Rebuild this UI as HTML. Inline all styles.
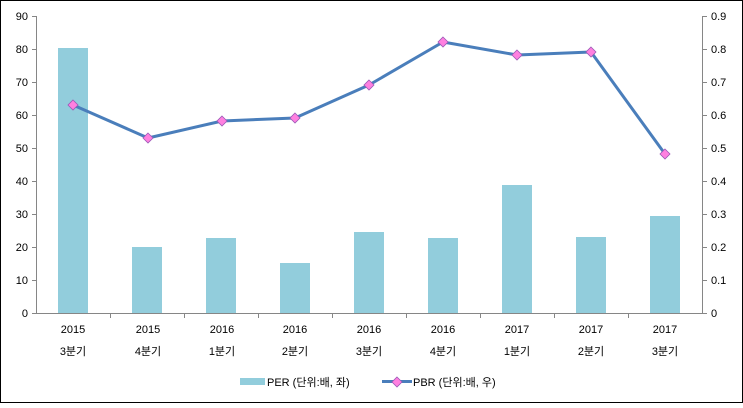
<!DOCTYPE html>
<html><head><meta charset="utf-8"><style>html,body{margin:0;padding:0;background:#fff}</style></head><body>
<svg width="743" height="403" xmlns="http://www.w3.org/2000/svg" font-family="Liberation Sans, 'Noto Sans CJK KR', sans-serif" font-size="11" fill="#000">
<rect x="0.5" y="0.5" width="742" height="402" fill="#fff" stroke="#000"/>
<g stroke="#868686" stroke-width="1">
<line x1="36.5" y1="16" x2="36.5" y2="313"/>
<line x1="702.5" y1="16" x2="702.5" y2="313"/>
<line x1="36" y1="313.5" x2="703" y2="313.5"/>
<line x1="32" y1="16.5" x2="36" y2="16.5"/><line x1="32" y1="49.5" x2="36" y2="49.5"/><line x1="32" y1="82.5" x2="36" y2="82.5"/><line x1="32" y1="115.5" x2="36" y2="115.5"/><line x1="32" y1="148.5" x2="36" y2="148.5"/><line x1="32" y1="181.5" x2="36" y2="181.5"/><line x1="32" y1="214.5" x2="36" y2="214.5"/><line x1="32" y1="247.5" x2="36" y2="247.5"/><line x1="32" y1="280.5" x2="36" y2="280.5"/><line x1="32" y1="313.5" x2="36" y2="313.5"/>
<line x1="703" y1="16.5" x2="707" y2="16.5"/><line x1="703" y1="49.5" x2="707" y2="49.5"/><line x1="703" y1="82.5" x2="707" y2="82.5"/><line x1="703" y1="115.5" x2="707" y2="115.5"/><line x1="703" y1="148.5" x2="707" y2="148.5"/><line x1="703" y1="181.5" x2="707" y2="181.5"/><line x1="703" y1="214.5" x2="707" y2="214.5"/><line x1="703" y1="247.5" x2="707" y2="247.5"/><line x1="703" y1="280.5" x2="707" y2="280.5"/><line x1="703" y1="313.5" x2="707" y2="313.5"/>
<line x1="110.5" y1="313" x2="110.5" y2="318"/><line x1="184.5" y1="313" x2="184.5" y2="318"/><line x1="258.5" y1="313" x2="258.5" y2="318"/><line x1="332.5" y1="313" x2="332.5" y2="318"/><line x1="406.5" y1="313" x2="406.5" y2="318"/><line x1="480.5" y1="313" x2="480.5" y2="318"/><line x1="554.5" y1="313" x2="554.5" y2="318"/><line x1="628.5" y1="313" x2="628.5" y2="318"/>
</g>
<g text-anchor="end">
<text x="28" y="20">90</text><text x="28" y="53">80</text><text x="28" y="86">70</text><text x="28" y="119">60</text><text x="28" y="152">50</text><text x="28" y="185">40</text><text x="28" y="218">30</text><text x="28" y="251">20</text><text x="28" y="284">10</text><text x="28" y="317">0</text>
</g>
<g>
<text x="711" y="20">0.9</text><text x="711" y="53">0.8</text><text x="711" y="86">0.7</text><text x="711" y="119">0.6</text><text x="711" y="152">0.5</text><text x="711" y="185">0.4</text><text x="711" y="218">0.3</text><text x="711" y="251">0.2</text><text x="711" y="284">0.1</text><text x="711" y="317">0</text>
</g>
<g fill="#92CDDC">
<rect x="58" y="48" width="30" height="265"/>
<rect x="132" y="247" width="30" height="66"/>
<rect x="206" y="238" width="30" height="75"/>
<rect x="280" y="263" width="30" height="50"/>
<rect x="354" y="232" width="30" height="81"/>
<rect x="428" y="238" width="30" height="75"/>
<rect x="502" y="185" width="30" height="128"/>
<rect x="576" y="237" width="30" height="76"/>
<rect x="650" y="216" width="30" height="97"/>
</g>
<polyline fill="none" stroke="#4A7EBB" stroke-width="3" stroke-linejoin="round" points="73,105 148,138 222,121 295,118 369,85 443,42 517,55 591,52 665,154"/>
<g fill="#FF80E0" stroke="#9B59B6" stroke-width="0.8">
<path d="M73,100 l5,5 l-5,5 l-5,-5z"/><path d="M148,133 l5,5 l-5,5 l-5,-5z"/><path d="M222,116 l5,5 l-5,5 l-5,-5z"/><path d="M295,113 l5,5 l-5,5 l-5,-5z"/><path d="M369,80 l5,5 l-5,5 l-5,-5z"/><path d="M443,37 l5,5 l-5,5 l-5,-5z"/><path d="M517,50 l5,5 l-5,5 l-5,-5z"/><path d="M591,47 l5,5 l-5,5 l-5,-5z"/><path d="M665,149 l5,5 l-5,5 l-5,-5z"/>
</g>
<g text-anchor="middle">
<text x="73" y="333">2015</text><text x="73" y="355">3분기</text>
<text x="148" y="333">2015</text><text x="148" y="355">4분기</text>
<text x="222" y="333">2016</text><text x="222" y="355">1분기</text>
<text x="295" y="333">2016</text><text x="295" y="355">2분기</text>
<text x="369" y="333">2016</text><text x="369" y="355">3분기</text>
<text x="443" y="333">2016</text><text x="443" y="355">4분기</text>
<text x="517" y="333">2017</text><text x="517" y="355">1분기</text>
<text x="591" y="333">2017</text><text x="591" y="355">2분기</text>
<text x="665" y="333">2017</text><text x="665" y="355">3분기</text>
</g>
<rect x="240" y="378" width="25" height="7" fill="#92CDDC"/>
<text x="267" y="386">PER (단위:배, 좌)</text>
<line x1="382" y1="381.5" x2="412" y2="381.5" stroke="#4A7EBB" stroke-width="3"/>
<path d="M397,377 l5,5 l-5,5 l-5,-5z" fill="#FF80E0" stroke="#9B59B6" stroke-width="0.8"/>
<text x="413" y="386">PBR (단위:배, 우)</text>
</svg>
</body></html>
